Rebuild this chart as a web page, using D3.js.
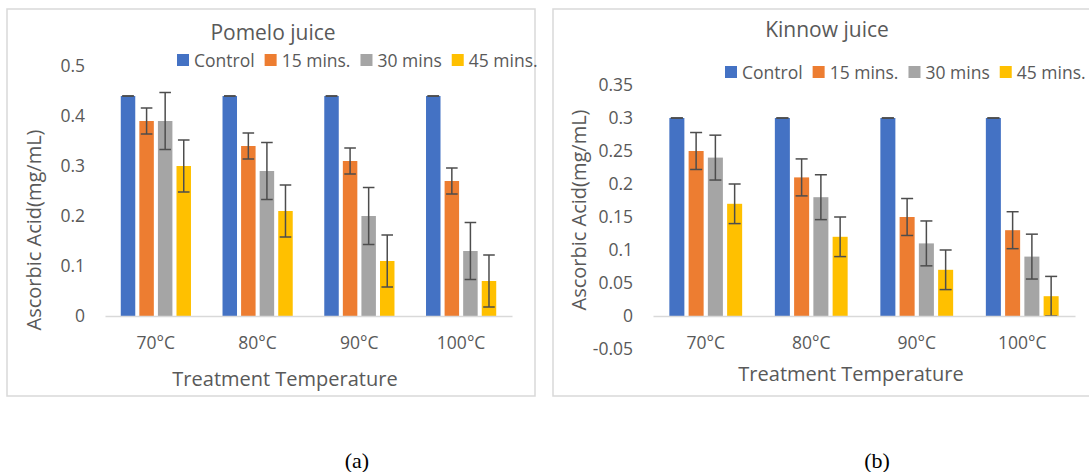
<!DOCTYPE html>
<html>
<head>
<meta charset="utf-8">
<script src="https://cdn.jsdelivr.net/npm/d3@7"></script>
<style>
	body { margin: 0; background: #fff; }
	svg text { font-family: "Open Sans", sans-serif; fill: #595959; }
	svg text.caption { font-family: "Liberation Serif", serif; fill: #000; }
</style>
</head>
<body>
<svg width="1089" height="472"></svg>
<script>
(function() {

// DATA

	var categories = ["70°C", "80°C", "90°C", "100°C"];
	var seriesNames = ["Control", "15 mins.", "30 mins", "45 mins."];
	var seriesColors = ["#4472C4", "#ED7D31", "#A5A5A5", "#FFC000"];

	// pomelo juice, one array per series (70, 80, 90, 100 °C)
	var pomeloControl = [0.44, 0.44, 0.44, 0.44];
	var pomelo15 = [0.39, 0.34, 0.31, 0.27];
	var pomelo30 = [0.39, 0.29, 0.20, 0.13];
	var pomelo45 = [0.30, 0.21, 0.11, 0.07];
	var pomeloErr = [0, 0.026, 0.057, 0.052];
	var pomeloTicks = [0, 0.1, 0.2, 0.3, 0.4, 0.5];

	// kinnow juice
	var kinnowControl = [0.30, 0.30, 0.30, 0.30];
	var kinnow15 = [0.25, 0.21, 0.15, 0.13];
	var kinnow30 = [0.24, 0.18, 0.11, 0.09];
	var kinnow45 = [0.17, 0.12, 0.07, 0.03];
	var kinnowErr = [0, 0.028, 0.034, 0.030];
	var kinnowTicks = [-0.05, 0, 0.05, 0.1, 0.15, 0.2, 0.25, 0.3, 0.35];

	var svg = d3.select('svg');
	var gridColor = '#d9d9d9';

// DRAW

	function drawPanel(p) {
		var g = svg.append('g');

		g.append('rect')
			.attr('x', p.box[0]).attr('y', p.box[1])
			.attr('width', p.box[2]).attr('height', p.box[3])
			.attr('fill', 'none')
			.attr('stroke', gridColor)
			.attr('stroke-width', 1.5);

		var x0 = d3.scaleBand()
			.domain(categories)
			.range(p.xRange)
			.paddingInner(0.31)
			.paddingOuter(0.155);
		var x1 = d3.scaleBand()
			.domain(seriesNames)
			.range([0, x0.bandwidth()])
			.paddingInner(0.22);
		var y = d3.scaleLinear()
			.domain(p.yDomain)
			.range(p.yRange);

		// y axis, labels only
		var yaxis = g.append('g')
			.attr('transform', 'translate(' + p.xRange[0] + ',0)')
			.call(d3.axisLeft(y).tickValues(p.ticks).tickSize(0).tickPadding(20)
				.tickFormat(function(d) { return String(+d.toFixed(2)); }));
		yaxis.select('.domain').remove();
		yaxis.selectAll('text').style('font-size', '17.5px');

		// bars
		var rows = categories.map(function(c, i) {
			return {
				cat: c,
				vals: p.values.map(function(s, j) {
					return { name: seriesNames[j], v: s[i], e: p.errors[j], color: seriesColors[j] };
				})
			};
		});

		var groups = g.selectAll('.group')
			.data(rows)
			.enter()
			.append('g')
			.attr('class', 'group')
			.attr('transform', function(d) { return 'translate(' + x0(d.cat) + ',0)'; });

		groups.selectAll('rect')
			.data(function(d) { return d.vals; })
			.enter()
			.append('rect')
			.attr('x', function(d) { return x1(d.name); })
			.attr('y', function(d) { return y(Math.max(0, d.v)); })
			.attr('width', x1.bandwidth())
			.attr('height', function(d) { return Math.abs(y(d.v) - y(0)); })
			.attr('fill', function(d) { return d.color; });

		// x axis on the zero line
		var xaxis = g.append('g')
			.attr('transform', 'translate(0,' + y(0) + ')')
			.call(d3.axisBottom(x0).tickSize(0).tickSizeOuter(0).tickPadding(21));
		xaxis.select('.domain').attr('stroke', gridColor).attr('stroke-width', 1.5);
		xaxis.selectAll('text').style('font-size', '17.5px');

		// error bars
		var cap = x1.bandwidth() * 0.4;
		var err = groups.selectAll('.err')
			.data(function(d) { return d.vals; })
			.enter()
			.append('g')
			.attr('class', 'err')
			.attr('stroke', '#4d4d4d')
			.attr('stroke-width', 1.5);
		err.append('line')
			.attr('x1', function(d) { return x1(d.name) + x1.bandwidth() / 2; })
			.attr('x2', function(d) { return x1(d.name) + x1.bandwidth() / 2; })
			.attr('y1', function(d) { return y(d.v + d.e); })
			.attr('y2', function(d) { return y(d.v - d.e); });
		[1, -1].forEach(function(sign) {
			err.append('line')
				.attr('x1', function(d) { return x1(d.name) + x1.bandwidth() / 2 - cap; })
				.attr('x2', function(d) { return x1(d.name) + x1.bandwidth() / 2 + cap; })
				.attr('y1', function(d) { return y(d.v + sign * d.e); })
				.attr('y2', function(d) { return y(d.v + sign * d.e); });
		});

		// title
		g.append('text')
			.attr('x', p.title[1]).attr('y', p.title[2])
			.attr('text-anchor', 'middle')
			.attr('dominant-baseline', 'central')
			.style('font-size', '21px')
			.text(p.title[0]);

		// legend
		var lx = p.legend[0];
		seriesNames.forEach(function(name, j) {
			g.append('rect')
				.attr('x', lx).attr('y', p.legend[1] - 6)
				.attr('width', 12).attr('height', 12)
				.attr('fill', seriesColors[j]);
			var t = g.append('text')
				.attr('x', lx + 17).attr('y', p.legend[1])
				.attr('dominant-baseline', 'central')
				.style('font-size', '17.5px')
				.text(name);
			lx = lx + 17 + t.node().getComputedTextLength() + 10;
		});

		// axis titles
		g.append('text')
			.attr('x', p.xTitle[0]).attr('y', p.xTitle[1])
			.attr('text-anchor', 'middle')
			.attr('dominant-baseline', 'central')
			.style('font-size', '20px')
			.text('Treatment Temperature');
		g.append('text')
			.attr('transform', 'translate(' + p.yTitle[0] + ',' + p.yTitle[1] + ') rotate(-90)')
			.attr('text-anchor', 'middle')
			.attr('dominant-baseline', 'central')
			.style('font-size', '20px')
			.text('Ascorbic Acid(mg/mL)');

		g.append('text')
			.attr('class', 'caption')
			.attr('x', p.caption[1]).attr('y', p.caption[2])
			.attr('text-anchor', 'middle')
			.attr('dominant-baseline', 'central')
			.style('font-size', '22px')
			.text(p.caption[0]);
	}

	drawPanel({
		box: [7, 9, 528, 387],
		xRange: [105, 512],
		yDomain: [0, 0.5],
		yRange: [316, 66],
		ticks: pomeloTicks,
		values: [pomeloControl, pomelo15, pomelo30, pomelo45],
		errors: pomeloErr,
		title: ['Pomelo juice', 273, 32],
		legend: [177, 60],
		xTitle: [285, 378],
		yTitle: [33, 230],
		caption: ['(a)', 357, 460]
	});

	drawPanel({
		box: [553, 9, 560, 387],
		xRange: [653, 1075],
		yDomain: [-0.05, 0.35],
		yRange: [349, 85],
		ticks: kinnowTicks,
		values: [kinnowControl, kinnow15, kinnow30, kinnow45],
		errors: kinnowErr,
		title: ['Kinnow juice', 827, 29],
		legend: [725, 72],
		xTitle: [851, 373],
		yTitle: [578, 210],
		caption: ['(b)', 877, 460]
	});

})()
</script>
</body>
</html>
